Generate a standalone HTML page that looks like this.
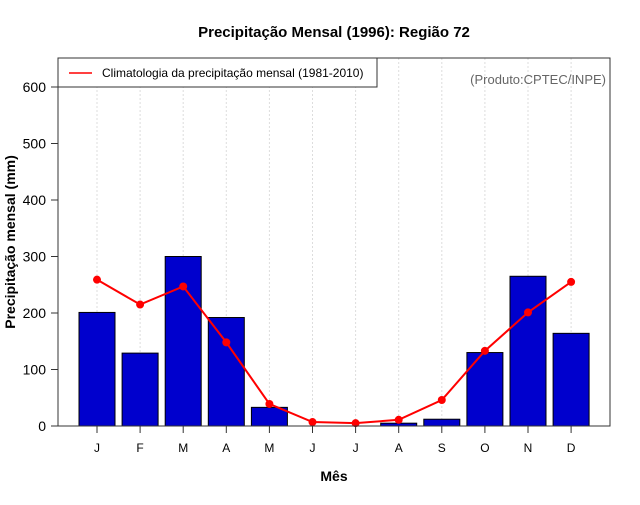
<!DOCTYPE html>
<html><head><meta charset="utf-8"><style>
body{margin:0;background:#fff}
svg text{font-family:"Liberation Sans",sans-serif}
</style></head><body>
<svg id="chart" width="640" height="500">
<text x="334" y="37" text-anchor="middle" font-size="15" font-weight="bold">Precipitação Mensal (1996): Região 72</text>
<text x="334" y="481" text-anchor="middle" font-size="14" font-weight="bold">Mês</text>
<text transform="translate(15,242) rotate(-90)" text-anchor="middle" font-size="14" font-weight="bold">Precipitação mensal (mm)</text>
<g id="grid"></g><g id="bars"></g><g id="line"></g><g id="axes"></g>
<rect x="58" y="58" width="552" height="368" fill="none" stroke="#333" stroke-width="1"/>
<g>
<rect x="58" y="58" width="319" height="29" fill="#fff" stroke="#333"/>
<line x1="69" y1="73" x2="92" y2="73" stroke="red" stroke-width="1.5"/>
<text x="102" y="77" font-size="12">Climatologia da precipitação mensal (1981-2010)</text>
</g>
<text x="606" y="84" text-anchor="end" font-size="13" fill="#666">(Produto:CPTEC/INPE)</text>
</svg>
<script>
const months=["J","F","M","A","M","J","J","A","S","O","N","D"];
const observed=[201,129,300,192,33,0,0,5,12,130,265,164];
const climatology=[259,215,247,148,39,7,5,11,46,133,201,255];
const yTicks=[0,100,200,300,400,500,600];
const NS="http://www.w3.org/2000/svg";
const xs=i=>97+i*43.1;
const ys=v=>426-v*0.565;
function mk(tag,attrs,parent,txt){const e=document.createElementNS(NS,tag);for(const k in attrs)e.setAttribute(k,attrs[k]);if(txt!==undefined)e.textContent=txt;document.getElementById(parent).appendChild(e);return e;}
months.forEach((m,i)=>{
 const g=mk("line",{x1:xs(i),x2:xs(i),y1:58,y2:426,stroke:"#ddd","stroke-dasharray":"2,2"},"grid");
 
 
 const t=mk("line",{x1:xs(i),x2:xs(i),y1:426,y2:433,stroke:"#333"},"axes");
 
 
 const l=mk("text",{x:xs(i),y:452,"text-anchor":"middle","font-size":"12"},"axes",m);
 
 
 const b=mk("rect",{x:xs(i)-18,y:ys(observed[i]),width:36,height:observed[i]*0.565,fill:"#0000cd",stroke:"#000","stroke-width":"1"},"bars");
 
 
});
yTicks.forEach(v=>{
 const t=mk("line",{x1:51,x2:58,y1:ys(v),y2:ys(v),stroke:"#333"},"axes");
 
 
 const l=mk("text",{x:46,y:ys(v)+5,"text-anchor":"end","font-size":"14"},"axes",v);
 
 
});
const pl=mk("polyline",{points:climatology.map((v,i)=>xs(i)+","+ys(v)).join(" "),fill:"none",stroke:"red","stroke-width":"2"},"line");


climatology.forEach((v,i)=>{
 const c=mk("circle",{cx:xs(i),cy:ys(v),r:4,fill:"red"},"line");
 
 
});
</script>
</body></html>
